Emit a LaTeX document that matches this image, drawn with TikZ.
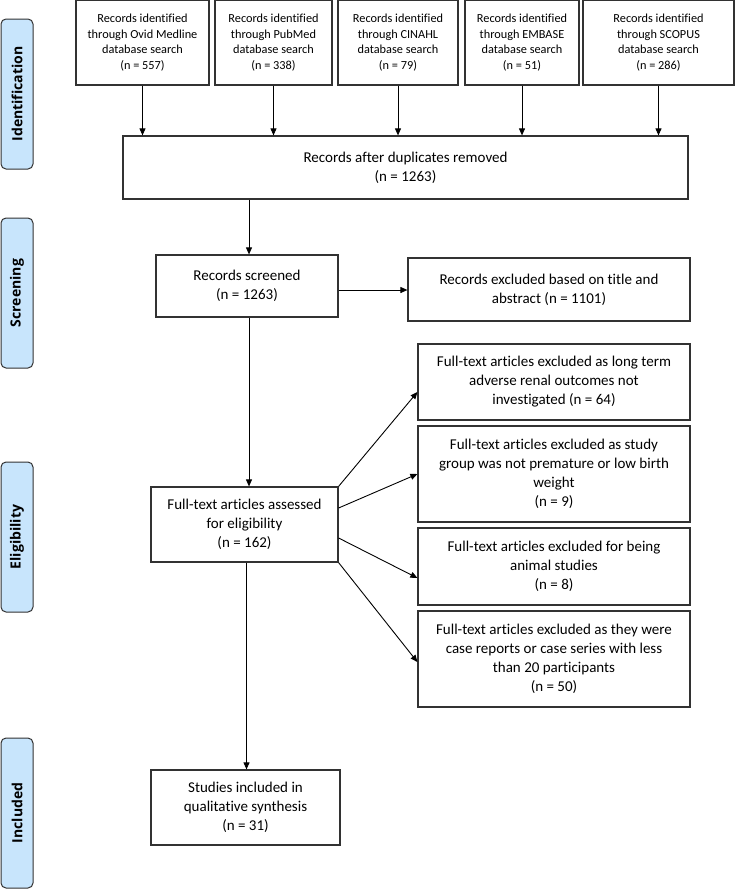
\documentclass[tikz,border=0pt]{standalone}
\usepackage{fontspec}
\setmainfont{Carlito}[Ligatures=NoCommon]
\newfontfamily\phasefont{Open Sans}[Ligatures=NoCommon]
\usepackage{tikz}
\usetikzlibrary{arrows.meta,positioning}

\definecolor{phaseblue}{RGB}{200,229,252}
\definecolor{boxline}{RGB}{50,50,50}

\begin{document}
\begin{tikzpicture}[x=1pt, y=-1pt,
  flowbox/.style={rectangle, draw=boxline, line width=1.2pt, fill=white, align=center, inner sep=2pt,
    font=\fontsize{15}{19}\selectfont},
  srcbox/.style={flowbox, font=\fontsize{12.3}{15.5}\selectfont},
  phasebox/.style={rectangle, rounded corners=5pt, draw=boxline, line width=1pt, fill=phaseblue,
    rotate=90, minimum width=150pt, minimum height=32pt, inner sep=0pt,
    font=\phasefont\bfseries\fontsize{14}{16}\selectfont},
  arr/.style={-{Triangle[length=7pt,width=6pt]}, line width=0.9pt, black}]
\useasboundingbox (0,0) rectangle (735,889);
% Phases
\node[phasebox] (pid) at (17, 94) {Identification};
\node[phasebox] (pscr) at (17, 293) {Screening};
\node[phasebox] (pelig) at (17, 537) {Eligibility};
\node[phasebox] (pincl) at (17, 813) {Included};
% Nodes
\node[srcbox, minimum width=133pt, minimum height=85pt] (s1) at (142.5, 42.5) {Records identified\\through Ovid Medline\\database search\\(n = 557)};
\node[srcbox, minimum width=117pt, minimum height=85pt] (s2) at (273.5, 42.5) {Records identified\\through PubMed\\database search\\(n = 338)};
\node[srcbox, minimum width=120pt, minimum height=85pt] (s3) at (398, 42.5) {Records identified\\through CINAHL\\database search\\(n = 79)};
\node[srcbox, minimum width=114pt, minimum height=85pt] (s4) at (522, 42.5) {Records identified\\through EMBASE\\database search\\(n = 51)};
\node[srcbox, minimum width=151pt, minimum height=85pt] (s5) at (658.5, 42.5) {Records identified\\through SCOPUS\\database search\\(n = 286)};
\node[flowbox, minimum width=565pt, minimum height=63pt] (dupes) at (405.5, 167.5) {Records after duplicates removed\\(n = 1263)};
\node[flowbox, minimum width=182pt, minimum height=62pt] (screened) at (247, 286) {Records screened\\(n = 1263)};
\node[flowbox, minimum width=282pt, minimum height=63pt] (exscr) at (549, 289.5) {Records excluded based on title and\\abstract (n = 1101)};
\node[flowbox, minimum width=187pt, minimum height=75pt] (full) at (244.5, 524.5) {Full-text articles assessed\\for eligibility\\(n = 162)};
\node[flowbox, minimum width=272pt, minimum height=76pt] (ex64) at (554, 382) {Full-text articles excluded as long term\\adverse renal outcomes not\\investigated (n = 64)};
\node[flowbox, minimum width=272pt, minimum height=96pt] (ex9) at (554, 474) {Full-text articles excluded as study\\group was not premature or low birth\\weight\\(n = 9)};
\node[flowbox, minimum width=272pt, minimum height=77pt] (ex8) at (554, 566.5) {Full-text articles excluded for being\\animal studies\\(n = 8)};
\node[flowbox, minimum width=272pt, minimum height=96pt] (ex50) at (554, 659) {Full-text articles excluded as they were\\case reports or case series with less\\than 20 participants\\(n = 50)};
\node[flowbox, minimum width=189pt, minimum height=75pt] (incl) at (245.5, 807.5) {Studies included in\\qualitative synthesis\\(n = 31)};
% Connectors
\foreach \s in {s1,s2,s3,s4,s5}
  \draw[arr] (\s.south) -- (\s.south |- dupes.north);
\draw[arr] ([xshift=2pt]dupes.south -| screened.north) -- ([xshift=2pt]screened.north);
\draw[arr] ([yshift=-4pt]screened.east) -- ([yshift=-4pt]screened.east -| exscr.west);
\draw[arr] ([xshift=2pt]screened.south) -- ([xshift=2pt]screened.south |- full.north);
\draw[arr] (full.north east) -- ([yshift=-10pt]ex64.west);
\draw[arr] ([yshift=16.5pt]full.east) -- (ex9.west);
\draw[arr] ([yshift=-13.5pt]full.east) -- ([yshift=-11.5pt]ex8.west);
\draw[arr] (full.south east) -- ([yshift=-3pt]ex50.west);
\draw[arr] ([xshift=2pt]full.south) -- ([xshift=2pt]full.south |- incl.north);
\end{tikzpicture}
\end{document}
